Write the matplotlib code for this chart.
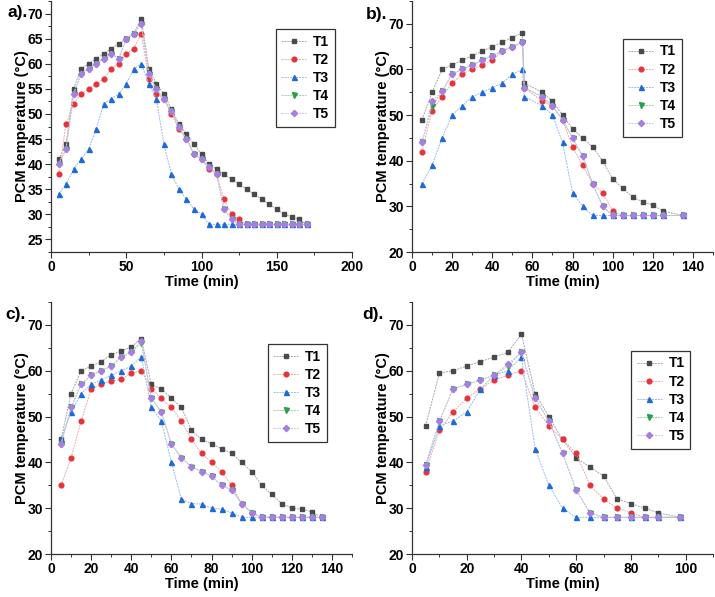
import matplotlib
matplotlib.use("Agg")
import matplotlib.pyplot as plt
from matplotlib.ticker import MultipleLocator

plt.rcParams['font.family'] = ['Liberation Sans', 'DejaVu Sans']
plt.rcParams['font.weight'] = 'bold'

series_names = ["T1", "T2", "T3", "T4", "T5"]

# ---------------- panel a ----------------
a_time = [5, 10, 15, 20, 25, 30, 35, 40, 45, 50, 55, 60, 65, 70, 75, 80, 85, 90, 95, 100,
          105, 110, 115, 120, 125, 130, 135, 140, 145, 150, 155, 160, 165, 170]
a_T1 = [41, 44, 55, 59, 60, 61, 62, 63, 64, 65, 66, 69, 59, 56, 54, 51, 48, 46, 44, 42,
        40, 39, 38, 37, 36, 35, 34, 33, 32, 31, 30, 29.5, 29, 28]
a_T2 = [38, 48, 52, 54, 55, 56, 57, 59, 60, 62, 63, 66, 57, 54, 53, 50, 47, 45, 42, 41,
        39, 38, 33, 30, 29, 28, 28, 28, 28, 28, 28, 28, 28, 28]
a_T3 = [34, 36, 39, 41, 43, 47, 52, 53, 54, 56, 59, 60, 56, 53, 44, 38, 35, 33, 31, 30,
        28, 28, 28, 28, 28, 28, 28, 28, 28, 28, 28, 28, 28, 28]
a_T4 = [40, 43, 54, 58, 59, 60, 61, 62, 61, 65, 66, 68, 58, 55, 53, 50.5, 47.5, 45, 42, 41,
        39.5, 38, 31, 29, 28, 28, 28, 28, 28, 28, 28, 28, 28, 28]
a_T5 = [40, 43, 54, 58, 59, 60, 61, 62, 61, 65, 66, 68, 58, 55, 53, 50.5, 47.5, 45, 42, 41,
        39.5, 38, 31, 29, 28, 28, 28, 28, 28, 28, 28, 28, 28, 28]

# ---------------- panel b ----------------
b_time = [5, 10, 15, 20, 25, 30, 35, 40, 45, 50, 55, 56, 65, 70, 75, 80, 85, 90, 95, 100,
          105, 110, 115, 120, 125, 135]
b_T1 = [49, 55, 60, 61, 62, 63, 64, 65, 66, 67, 68, 57, 55, 53, 50, 47, 45, 43, 40, 36,
        34, 32, 31, 30.3, 29, 28]
b_T2 = [42, 51, 54, 57, 59, 60, 61, 62, 64, 65, 66, 56, 53, 52, 49, 43, 39, 35, 33, 29,
        28, 28, 28, 28, 28, 28]
b_T3 = [35, 39, 45, 50, 52, 54, 55, 56, 57, 59, 60, 54, 52, 50, 44, 33, 30, 28, 28, 28,
        28, 28, 28, 28, 28, 28]
b_T4 = [44, 52, 55.2, 59, 60, 61, 62, 63, 64, 65, 66, 56, 54, 52, 49, 45, 41, 35, 30, 28,
        28, 28, 28, 28, 28, 28]
b_T5 = [44, 53, 55.2, 59, 60, 61, 62, 63, 64, 65, 66, 56, 54, 52, 49, 45, 41, 35, 30, 28,
        28, 28, 28, 28, 28, 28]

# ---------------- panel c ----------------
c_time = [5, 10, 15, 20, 25, 30, 35, 40, 45, 50, 55, 60, 65, 70, 75, 80, 85, 90, 95, 100,
          105, 110, 115, 120, 125, 130, 135]
c_T1 = [45, 55, 60, 61, 62, 63.5, 64.3, 65.2, 67, 57, 56, 54, 52, 47, 45, 44, 43, 42, 40, 38,
        35, 33, 31, 30, 29.8, 29.2, 28]
c_T2 = [35, 41, 49, 56, 57, 57.8, 58.1, 59.5, 60, 56, 54, 52, 49, 45, 42, 40, 38, 35, 31, 29,
        28, 28, 28, 28, 28, 28, 28]
c_T3 = [45, 51, 55, 57, 58, 59, 60, 61, 63, 52, 49, 40, 32, 31, 30.9, 30, 29.8, 29, 28, 28,
        28, 28, 28, 28, 28, 28, 28]
c_T4 = [44, 52, 57, 59, 60, 61, 63, 64, 66, 54, 51, 44, 41, 39, 38, 37, 35, 34, 31, 29,
        28, 28, 28, 28, 28, 28, 28]
c_T5 = [44, 52, 57, 59, 60, 61, 63, 64, 66.5, 54, 51, 44, 41, 39, 38, 37, 35, 34, 31, 29,
        28, 28, 28, 28, 28, 28, 28]

# ---------------- panel d ----------------
d_time = [5, 10, 15, 20, 25, 30, 35, 40, 45, 50, 55, 60, 65, 70, 75, 80, 85, 90, 98]
d_T1 = [48, 59.5, 60, 61, 62, 63, 64, 68, 55, 50, 45, 41, 39, 37, 32, 31, 30, 29, 28]
d_T2 = [38, 47, 51, 54, 56, 58, 59, 60, 52, 48, 45, 42, 35, 32, 30, 29, 28, 28, 28]
d_T3 = [39, 48, 49, 51, 56, 59, 60, 63, 43, 35, 30, 28, 28, 28, 28, 28, 28, 28, 28]
d_T4 = [39.5, 49, 56, 57, 58, 59, 61, 64, 54, 49, 42, 34, 29, 28, 28, 28, 28, 28, 28]
d_T5 = [39.5, 49, 56, 57, 58, 59, 61.5, 64, 54, 49, 42, 34, 29, 28, 28, 28, 28, 28, 28]

panel_labels = ["a).", "b).", "c).", "d)."]
x_label = "Time (min)"
y_label = "PCM temperature (°C)"

colors = ["#4a4a4a", "#e8323a", "#1f6ad8", "#2aa04a", "#a77fe0"]
line_colors = ["#a8a8a8", "#f2a8ab", "#98bbee", "#98d4a8", "#d2bdf4"]
markers = ["s", "o", "^", "v", "D"]
msizes = [3.0, 3.4, 3.6, 3.6, 3.2]

W, H = 715, 597
fig = plt.figure(figsize=(W / 100, H / 100), dpi=100)

def rect(l, r, t, b):
    return [l / W, (H - b) / H, (r - l) / W, (b - t) / H]

panels = [
    dict(rect=rect(51, 352, 1, 252), t=a_time, ys=[a_T1, a_T2, a_T3, a_T4, a_T5],
         xlim=(0, 200), ylim=(22.5, 72.5), xmaj=50, ymaj=5, ymin_=2.5, xmin_=25,
         leg=(0.747, 0.888), lab=(7, 13)),
    dict(rect=rect(412, 713, 1, 252), t=b_time, ys=[b_T1, b_T2, b_T3, b_T4, b_T5],
         xlim=(0, 150), ylim=(20, 75), xmaj=20, ymaj=10, ymin_=5, xmin_=10,
         leg=(0.70, 0.849), lab=(366, 15)),
    dict(rect=rect(51, 352, 302, 554), t=c_time, ys=[c_T1, c_T2, c_T3, c_T4, c_T5],
         xlim=(0, 150), ylim=(20, 75), xmaj=20, ymaj=10, ymin_=5, xmin_=10,
         leg=(0.72, 0.833), lab=(5, 314)),
    dict(rect=rect(412, 713, 302, 554), t=d_time, ys=[d_T1, d_T2, d_T3, d_T4, d_T5],
         xlim=(0, 110), ylim=(20, 75), xmaj=20, ymaj=10, ymin_=5, xmin_=10,
         leg=(0.728, 0.806), lab=(362, 314)),
]

for i, p in enumerate(panels):
    ax = fig.add_axes(p["rect"])
    for k in range(5):
        ax.plot(p["t"], p["ys"][k], color=line_colors[k], lw=0.7, ls=(0, (2, 1)),
                marker=markers[k], ms=msizes[k], mfc=colors[k], mec=colors[k],
                label=series_names[k], zorder=3 + k)
    ax.set_xlim(*p["xlim"])
    ax.set_ylim(*p["ylim"])
    ax.xaxis.set_major_locator(MultipleLocator(p["xmaj"]))
    ax.xaxis.set_minor_locator(MultipleLocator(p["xmin_"]))
    ax.yaxis.set_major_locator(MultipleLocator(p["ymaj"]))
    ax.yaxis.set_minor_locator(MultipleLocator(p["ymin_"]))
    for s in ["top", "right"]:
        ax.spines[s].set_visible(False)
    for s in ["left", "bottom"]:
        ax.spines[s].set_color("#333333")
        ax.spines[s].set_linewidth(0.9)
    ax.tick_params(which="major", direction="out", length=4, width=0.8, colors="#333333",
                   labelsize=10, labelcolor="black", pad=1.5)
    ax.tick_params(which="minor", direction="out", length=2, width=0.7, colors="#333333")
    for lab in ax.get_xticklabels() + ax.get_yticklabels():
        lab.set_fontweight("bold")
    ax.set_xlabel(x_label, fontsize=10.5, fontweight="bold", labelpad=1)
    ax.set_ylabel(y_label, fontsize=10.5, fontweight="bold", labelpad=-1)
    leg = ax.legend(loc="upper left", bbox_to_anchor=p["leg"], borderaxespad=0,
                    fancybox=False, edgecolor="#333333", framealpha=1,
                    prop=dict(weight="bold", size=10), handlelength=1.8,
                    handletextpad=0.5, labelspacing=0.3, borderpad=0.4)
    leg.get_frame().set_linewidth(0.9)
    fig.text(p["lab"][0] / W, 1 - p["lab"][1] / H, panel_labels[i], fontsize=12.5,
             fontweight="bold", va="center", ha="left")

fig.savefig("out.png", dpi=100)
